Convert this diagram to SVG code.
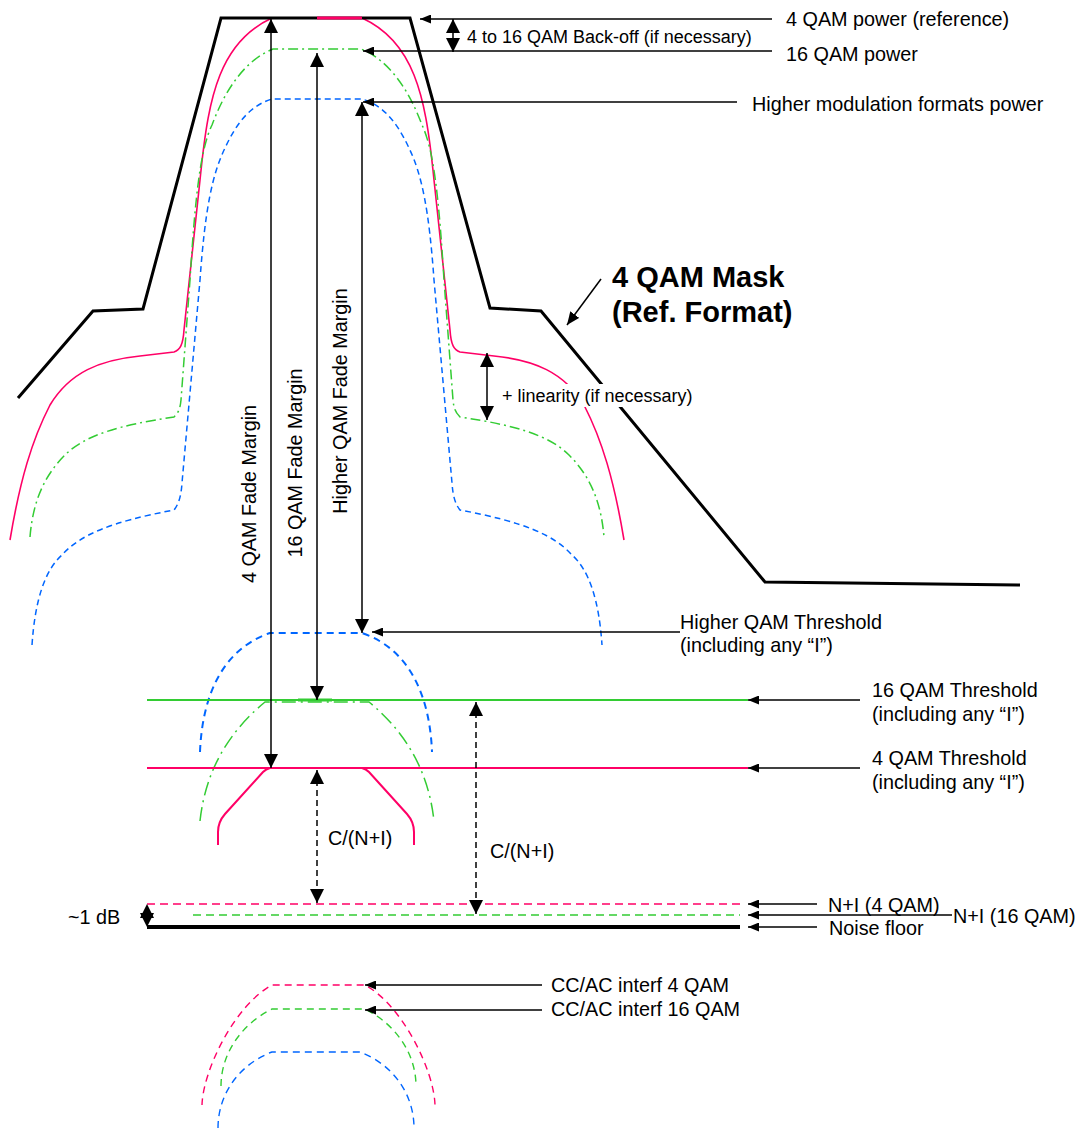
<svg xmlns="http://www.w3.org/2000/svg" width="1079" height="1131" viewBox="0 0 1079 1131">
<style>
text{font-family:"Liberation Sans",Arial,sans-serif;font-size:19.8px;fill:#000}
.s{font-size:18px}
.b{font-size:29px;font-weight:bold}
.mask{fill:none;stroke:#000;stroke-width:3;stroke-linejoin:miter}
.red{fill:none;stroke:#ff0066;stroke-width:1.6}
.grn{fill:none;stroke:#33cc33;stroke-width:1.5;stroke-dasharray:10 4 2 4}
.blu{fill:none;stroke:#0066ff;stroke-width:1.5;stroke-dasharray:6 4}
.arr{fill:none;stroke:#000;stroke-width:1.5}
.dsh{fill:none;stroke:#000;stroke-width:1.5;stroke-dasharray:6 4}
</style>
<defs>
<marker id="ab" markerUnits="userSpaceOnUse" markerWidth="14" markerHeight="14" refX="14" refY="7" orient="auto-start-reverse"><path d="M0,0L14,7L0,14z" fill="#000"/></marker>
<marker id="am" markerUnits="userSpaceOnUse" markerWidth="13" markerHeight="11" refX="13" refY="5.5" orient="auto-start-reverse"><path d="M0,0L13,5.5L0,11z" fill="#000"/></marker>
<marker id="as" markerUnits="userSpaceOnUse" markerWidth="11" markerHeight="9" refX="11" refY="4.5" orient="auto-start-reverse"><path d="M0,0L11,4.5L0,9z" fill="#000"/></marker>
</defs>
<rect width="1079" height="1131" fill="#fff"/>

<g id="spectrum-4qam">
<path class="red" d="M10,540C20,480 32,440 50,405C70,372 100,360 140,356L174,352C180,350 183,345 184,330L200,180C205,130 210,100 220,75C232,45 250,28 272,18L362,18C384,28 402,45 414,75C424,100 429,130 434,180L450,330C451,345 454,350 460,352L494,356C534,360 564,372 584,405C602,440 614,480 624,540"/>
</g>
<g id="mask">
<path class="mask" d="M18,398L93,311L143,309L221,18L410,18L490,308L541,311L765,582L1020,585"/>
<line x1="317" y1="18" x2="362" y2="18" stroke="#ff0066" stroke-width="3"/>
</g>
<g id="spectrum-16qam">
<path class="grn" d="M30,537C33,500 45,475 65,455C85,435 120,425 174,417C178,413 180,410 181,400L190,280C195,200 200,150 212,125C225,90 245,60 273,49L361,49C389,60 409,90 422,125C434,150 439,200 444,280L453,400C454,410 456,413 460,417C514,425 549,435 569,455C589,475 601,500 604,537"/>
</g>
<g id="spectrum-higher">
<path class="blu" d="M32,645C35,600 45,570 62,555C80,535 110,522 174,510C178,505 181,498 182,483L200,280C205,210 212,175 225,148C238,120 252,105 272,99L362,99C382,105 396,120 409,148C422,175 429,210 434,280L452,483C453,498 456,505 460,510C524,522 554,535 572,555C589,570 599,600 602,645"/>
</g>

<g id="thresholds">
<path fill="none" stroke="#0066ff" stroke-width="2" stroke-dasharray="7 5" d="M200,752C202,700 220,650 270,633L362,633C412,650 430,700 432,752"/>
<path fill="none" stroke="#33cc33" stroke-width="1.5" stroke-dasharray="14 5 2 5" d="M200,821C205,775 225,735 265,702L369,702C409,735 429,775 434,821"/>
<line x1="147" y1="700" x2="748" y2="700" stroke="#33cc33" stroke-width="2"/>
<line x1="298" y1="700" x2="332" y2="700" stroke="#33cc33" stroke-width="3"/>
<path fill="none" stroke="#ff0066" stroke-width="2" d="M218,845L218,832Q218,822 225,814L263,772Q266,769 270,768L362,768Q366,769 369,772L407,814Q414,822 414,832L414,845"/>
<line x1="147" y1="768" x2="748" y2="768" stroke="#ff0066" stroke-width="2"/>
</g>

<g id="noise">
<line x1="147" y1="904" x2="740" y2="904" stroke="#ff0066" stroke-width="1.5" stroke-dasharray="8 5"/>
<line x1="193" y1="915" x2="740" y2="915" stroke="#33cc33" stroke-width="1.5" stroke-dasharray="8 5"/>
<line x1="147" y1="927" x2="740" y2="927" stroke="#000" stroke-width="4"/>
<polygon points="147,904 154,918 140,918" fill="#000"/>
<polygon points="147,927 154,913 140,913" fill="#000"/>
</g>

<g id="interference">
<path fill="none" stroke="#ff0066" stroke-width="1.4" stroke-dasharray="7 5" d="M202,1105C203,1070 235,1005 272,985L365,985C402,1005 434,1070 435,1105"/>
<path fill="none" stroke="#33cc33" stroke-width="1.4" stroke-dasharray="7 5" d="M221,1086C221,1055 240,1025 272,1009L365,1009C397,1025 416,1055 416,1086"/>
<path fill="none" stroke="#0066ff" stroke-width="1.4" stroke-dasharray="7 5" d="M218,1128C218,1095 238,1065 272,1052L360,1052C394,1065 414,1095 414,1128"/>
</g>

<g id="connectors">
<line class="arr" x1="772" y1="19" x2="420" y2="19" marker-end="url(#as)"/>
<line class="arr" x1="453" y1="19" x2="453" y2="52" marker-start="url(#ab)" marker-end="url(#ab)"/>
<line class="arr" x1="772" y1="51" x2="363" y2="51" marker-end="url(#as)"/>
<line class="arr" x1="737" y1="102" x2="363" y2="102" marker-end="url(#as)"/>
<line class="arr" x1="271" y1="19" x2="271" y2="768" marker-start="url(#ab)" marker-end="url(#ab)"/>
<line class="arr" x1="317" y1="53" x2="317" y2="700" marker-start="url(#ab)" marker-end="url(#ab)"/>
<line class="arr" x1="362" y1="102" x2="362" y2="633" marker-start="url(#ab)" marker-end="url(#ab)"/>
<line class="arr" x1="601" y1="279" x2="567" y2="325" marker-end="url(#am)"/>
<line class="arr" x1="487" y1="353" x2="487" y2="420" marker-start="url(#ab)" marker-end="url(#ab)"/>
<line class="arr" x1="680" y1="632" x2="372" y2="632" marker-end="url(#as)"/>
<line class="arr" x1="860" y1="700" x2="748" y2="700" marker-end="url(#as)"/>
<line class="arr" x1="860" y1="768" x2="748" y2="768" marker-end="url(#as)"/>
<line class="dsh" x1="317" y1="770" x2="317" y2="903" marker-start="url(#ab)" marker-end="url(#ab)"/>
<line class="dsh" x1="476" y1="702" x2="476" y2="914" marker-start="url(#ab)" marker-end="url(#ab)"/>
<line class="arr" x1="817" y1="904" x2="748" y2="904" marker-end="url(#as)"/>
<line class="arr" x1="952" y1="915" x2="748" y2="915" marker-end="url(#as)"/>
<line class="arr" x1="817" y1="927" x2="748" y2="927" marker-end="url(#as)"/>
<line class="arr" x1="542" y1="985" x2="365" y2="985" marker-end="url(#as)"/>
<line class="arr" x1="542" y1="1010" x2="365" y2="1010" marker-end="url(#as)"/>
</g>

<g id="labels">
<text x="786" y="26">4 QAM power (reference)</text>
<text class="s" x="467" y="43">4 to 16 QAM Back-off (if necessary)</text>
<text x="786" y="61">16 QAM power</text>
<text x="752" y="111">Higher modulation formats power</text>
<text class="b" x="612" y="287">4 QAM Mask</text>
<text class="b" x="612" y="322">(Ref. Format)</text>
<rect x="498" y="384" width="198" height="23" fill="#fff"/>
<text class="s" x="502" y="402">+ linearity (if necessary)</text>
<text transform="translate(256,494) rotate(-90)" text-anchor="middle">4 QAM Fade Margin</text>
<text transform="translate(302,463) rotate(-90)" text-anchor="middle">16 QAM Fade Margin</text>
<text transform="translate(347,401) rotate(-90)" text-anchor="middle">Higher QAM Fade Margin</text>
<text x="680" y="629">Higher QAM Threshold</text>
<text x="680" y="652">(including any “I”)</text>
<text x="872" y="697">16 QAM Threshold</text>
<text x="872" y="721">(including any “I”)</text>
<text x="872" y="765">4 QAM Threshold</text>
<text x="872" y="789">(including any “I”)</text>
<text x="328" y="845">C/(N+I)</text>
<text x="490" y="858">C/(N+I)</text>
<text x="68" y="924">~1 dB</text>
<text x="828" y="912">N+I (4 QAM)</text>
<text x="953" y="923">N+I (16 QAM)</text>
<text x="829" y="935">Noise floor</text>
<text x="551" y="992">CC/AC interf 4 QAM</text>
<text x="551" y="1016">CC/AC interf 16 QAM</text>
</g>
</svg>
